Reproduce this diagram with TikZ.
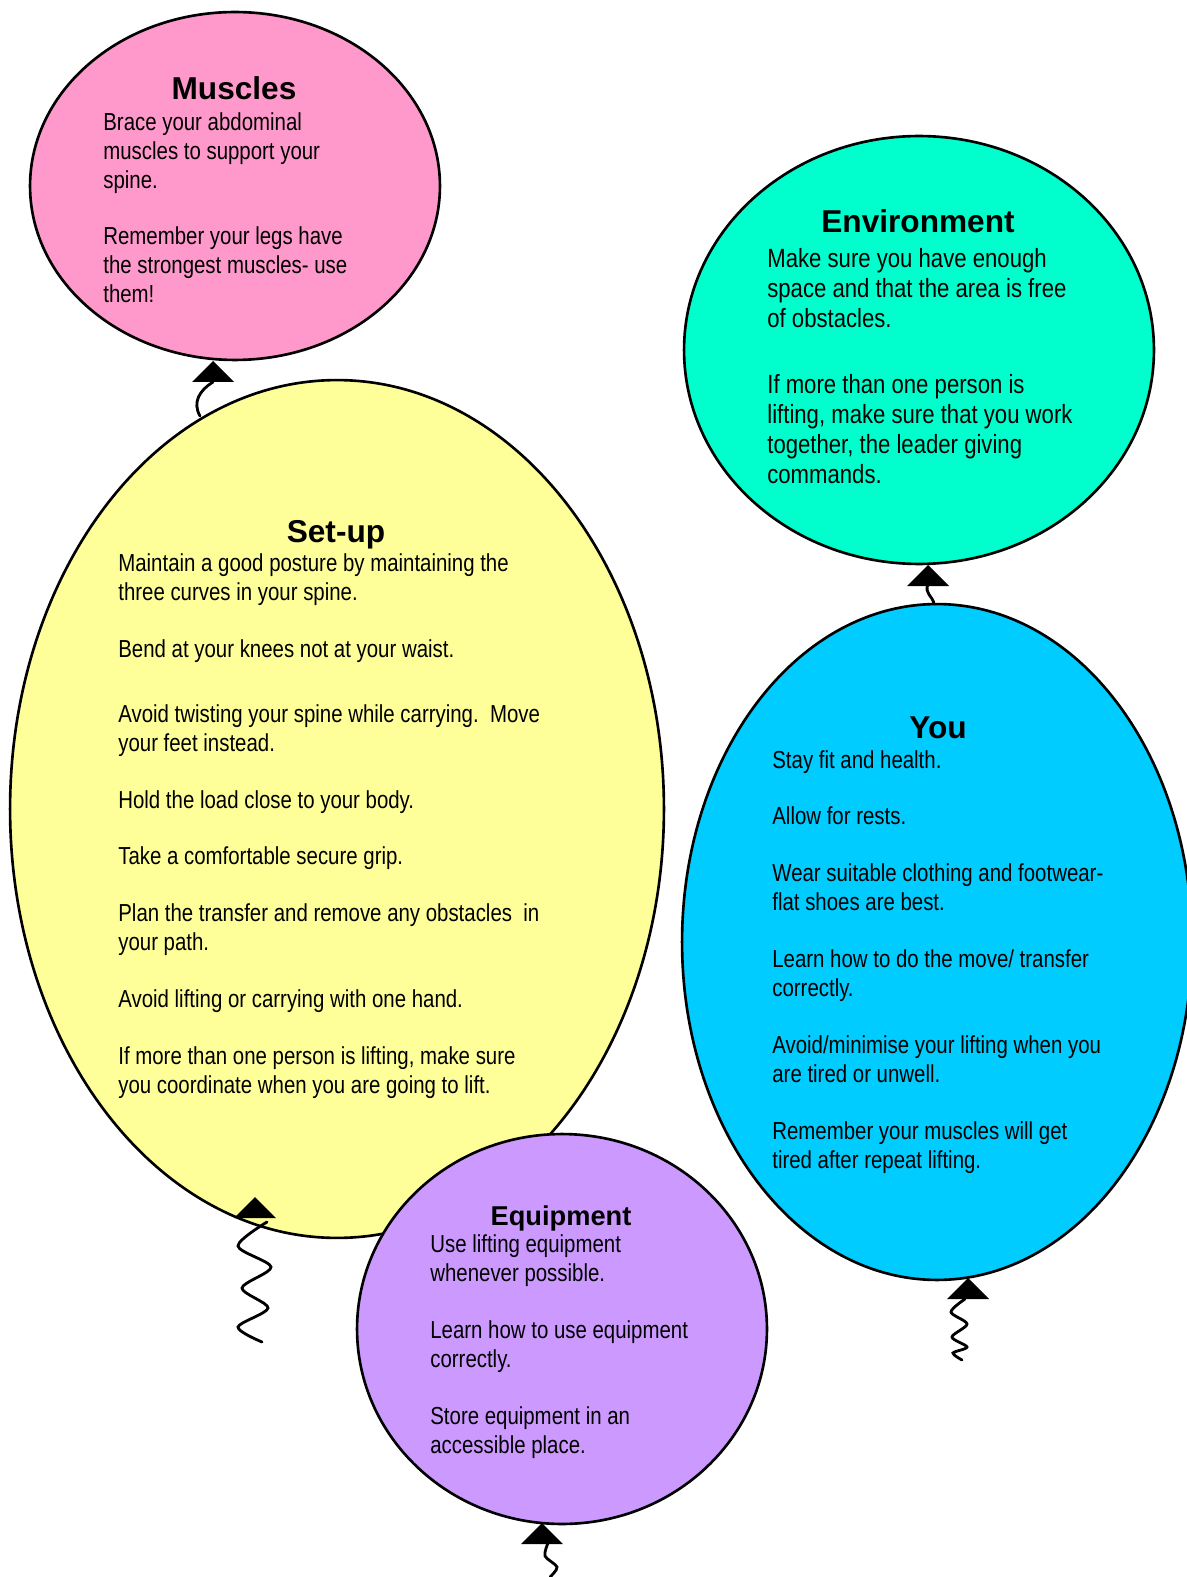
\documentclass[tikz,border=0pt]{standalone}
\usepackage{fontspec}
\setmainfont{Liberation Sans}[FakeStretch=0.83]
\newfontfamily\headfont{Liberation Sans}
\newfontfamily\widefont{Liberation Sans}[FakeStretch=0.84]
\usepackage{xcolor}
\usetikzlibrary{shapes.geometric}
\definecolor{musclepink}{HTML}{FF99CC}
\definecolor{setupyellow}{HTML}{FFFF99}
\definecolor{envgreen}{HTML}{00FFCC}
\definecolor{youblue}{HTML}{00CCFF}
\definecolor{equippurple}{HTML}{CC99FF}

\begin{document}
\begin{tikzpicture}[
    x=0.02cm, y=-0.02cm,
    balloon/.style={ellipse, draw, line width=1.5pt, inner sep=0pt},
    title/.style={anchor=base, inner sep=0pt, font=\headfont\bfseries\fontsize{18}{20}\selectfont},
    body/.style={anchor=north west, inner sep=0pt, align=left, font=\fontsize{14}{16.6}\selectfont},
    knot/.style={fill=black},
    string/.style={line width=1.6pt, line cap=round}
]
\useasboundingbox (0,0) rectangle (1186,1577);

% Muscles
\node[balloon, fill=musclepink, minimum width=8.2cm, minimum height=6.96cm] (muscles) at (235,186) {};
\node[title] (musclestitle) at (234,100) {Muscles};
\node[body] (musclesbody) at (103,112) {Brace your abdominal\\ muscles to support your\\ spine.\\[15pt]
    Remember your legs have\\ the strongest muscles- use\\ them!};

% Set-up
\node[balloon, fill=setupyellow, minimum width=13.08cm, minimum height=17.16cm] (setup) at (337,809) {};
\node[title] (setuptitle) at (336,542) {Set-up};
\node[body] (setupbody) at (118,553) {Maintain a good posture by maintaining the\\ three curves in your spine.\\[15.7pt]
    Bend at your knees not at your waist.\\[20.5pt]
    Avoid twisting your spine while carrying.\ \ Move\\ your feet instead.\\[15.7pt]
    Hold the load close to your body.\\[15.7pt]
    Take a comfortable secure grip.\\[15.7pt]
    Plan the transfer and remove any obstacles\ \ in\\ your path.\\[15.7pt]
    Avoid lifting or carrying with one hand.\\[15.7pt]
    If more than one person is lifting, make sure\\ you coordinate when you are going to lift.};

% Equipment
\node[balloon, fill=equippurple, minimum width=8.2cm, minimum height=7.8cm] (equipment) at (562,1329) {};
\node[title, font=\headfont\bfseries\fontsize{15.5}{18}\selectfont] (equiptitle) at (561,1225) {Equipment};
\node[body] (equipbody) at (430,1234) {Use lifting equipment\\ whenever possible.\\[15.7pt]
    Learn how to use equipment\\ correctly.\\[15.7pt]
    Store equipment in an\\ accessible place.};

% Environment
\node[balloon, fill=envgreen, minimum width=9.4cm, minimum height=8.56cm] (environment) at (919,350) {};
\node[title] (envtitle) at (918,233) {Environment};
\node[body, font=\widefont\fontsize{15}{17}\selectfont] (envbody) at (767,248) {Make sure you have enough\\ space and that the area is free\\ of obstacles.\\[21pt]
    If more than one person is\\ lifting,\ make sure that you work\\ together, the leader giving\\ commands.};

% You
\node[balloon, fill=youblue, minimum width=10.2cm, minimum height=13.52cm] (you) at (937,942) {};
\node[title] (youtitle) at (938,738) {You};
\node[body] (youbody) at (772,750) {Stay fit and health.\\[15.7pt]
    Allow for rests.\\[15.7pt]
    Wear suitable clothing and footwear-\\ flat shoes are best.\\[15.7pt]
    Learn how to do the move/ transfer\\ correctly.\\[15.7pt]
    Avoid/minimise your lifting when you\\ are tired or unwell.\\[15.7pt]
    Remember your muscles will get\\ tired after repeat lifting.};

% Knots
\coordinate (mknot) at (213,361);
\coordinate (sknot) at (255,1197);
\coordinate (eknot) at (928,565);
\coordinate (yknot) at (968,1278);
\coordinate (qknot) at (542,1523);
\foreach \k in {mknot, sknot, eknot, yknot, qknot}
    \fill[knot] (\k) -- ++(-21,21) -- ++(42,0) -- cycle;

% Strings
\coordinate (mend) at (200,416);
\coordinate (eend) at (934,604);
\draw[string] (213,382) .. controls (200,390) and (192,402) .. (mend);
\draw[string] (928,584) .. controls (924,594) and (933,596) .. (eend);
\draw[string] plot[smooth] coordinates {(267,1222) (238,1246) (271,1267) (242,1288) (268,1308) (238,1327) (262,1342)};
\draw[string] plot[smooth] coordinates {(965,1299) (951,1312) (967,1324) (952,1337) (967,1347) (953,1353) (962,1360)};
\draw[string] plot[smooth] coordinates {(548,1543) (545,1556) (557,1567) (550,1577)};

\end{tikzpicture}
\end{document}
